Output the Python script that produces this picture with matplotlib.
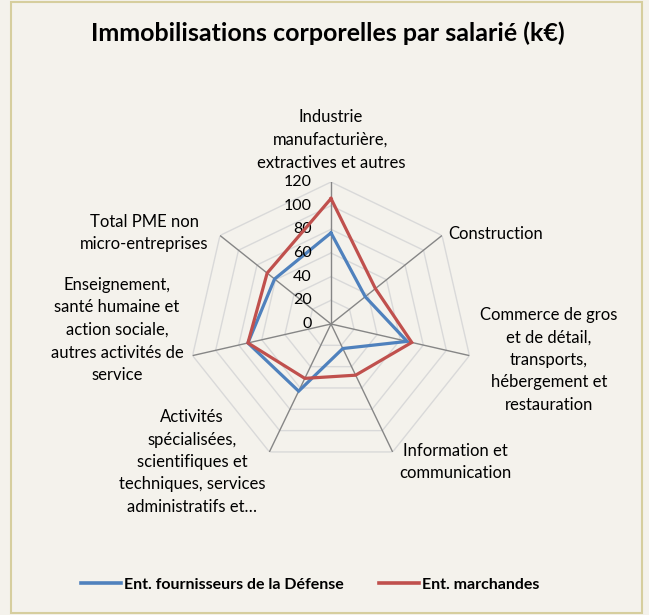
import numpy as np
import matplotlib
matplotlib.use("Agg")
import matplotlib.pyplot as plt
from matplotlib.patches import Rectangle
from matplotlib.lines import Line2D

categories = [
    "Industrie\nmanufacturière,\nextractives et autres",
    "Construction",
    "Commerce de gros\net de détail,\ntransports,\nhébergement et\nrestauration",
    "Information et\ncommunication",
    "Activités\nspécialisées,\nscientifiques et\ntechniques, services\nadministratifs et…",
    "Enseignement,\nsanté humaine et\naction sociale,\nautres activités de\nservice",
    "Total PME non\nmicro-entreprises",
]
defense = [77, 37, 66, 23, 63, 72, 61]
marchandes = [106, 48, 70, 48, 51, 72, 69]
radial_ticks = [0, 20, 40, 60, 80, 100, 120]

series_names = ["Ent. fournisseurs de la Défense", "Ent. marchandes"]
BLUE = "#4F81BD"
RED = "#C0504D"
BG = "#F4F2EC"
FONT = ["Lato", "DejaVu Sans"]

W, H = 649, 615
plt.rcParams["font.family"] = FONT


def px(x, y):
    return x / W, 1 - y / H


fig = plt.figure(figsize=(W / 100, H / 100), dpi=100, facecolor=BG)
fig.patches.append(Rectangle((11 / W, 2 / H), 631 / W, 611 / H, transform=fig.transFigure,
                             facecolor="none", edgecolor="#D6CE9E", linewidth=1.5))

# polar area: centre (331, 324), radius 142 px
cx, cy, rad = 331, 324, 142
ax = fig.add_axes([(cx - rad) / W, (H - cy - rad) / H, 2 * rad / W, 2 * rad / H], polar=True)
ax.set_facecolor("none")
ax.set_theta_offset(np.pi / 2)
ax.set_theta_direction(-1)
ax.set_ylim(0, 120)
ax.grid(False)
ax.spines["polar"].set_visible(False)
ax.set_xticks([])
ax.set_yticks([])

n = len(categories)
angles = np.linspace(0, 2 * np.pi, n, endpoint=False)
closed = np.append(angles, angles[0])

# polygon grid
for r in radial_ticks[1:]:
    ax.plot(closed, [r] * (n + 1), color="#D9D9D9", lw=1, zorder=1)
# spokes
for a in angles:
    ax.plot([a, a], [0, 120], color="#868686", lw=1, zorder=2)

ax.plot(closed, defense + defense[:1], color=BLUE, lw=2.3, zorder=3, solid_joinstyle="miter")
ax.plot(closed, marchandes + marchandes[:1], color=RED, lw=2.3, zorder=4, solid_joinstyle="miter")

# radial tick labels along the top spoke
for r in radial_ticks:
    ax.annotate(str(r), xy=(0, r), xytext=(-14, 0), textcoords="offset points",
                ha="right", va="center", fontsize=11.5, color="#000000")

# category labels
label_pos = [
    (331, 140, "center"),
    (448, 234, "left"),
    (549, 360, "center"),
    (455, 462, "center"),
    (192, 462, "center"),
    (117, 330, "center"),
    (144, 233, "center"),
]
for text, (x, y, ha) in zip(categories, label_pos):
    fx, fy = px(x, y)
    fig.text(fx, fy, text, ha=ha, va="center", fontsize=12, linespacing=1.5, color="#000000")

fig.text(*px(328, 33), "Immobilisations corporelles par salarié (k€)", ha="center", va="center",
         fontsize=18, fontweight="bold")

handles = [Line2D([], [], color=BLUE, lw=2.6), Line2D([], [], color=RED, lw=2.6)]
fig.legend(handles, series_names, loc="center", bbox_to_anchor=px(310, 585), ncol=2,
           frameon=False, handlelength=2.5, handletextpad=0.2, columnspacing=2.2,
           prop={"family": FONT, "weight": "bold", "size": 11.5})

fig.savefig("out.png", dpi=100, facecolor=BG)
